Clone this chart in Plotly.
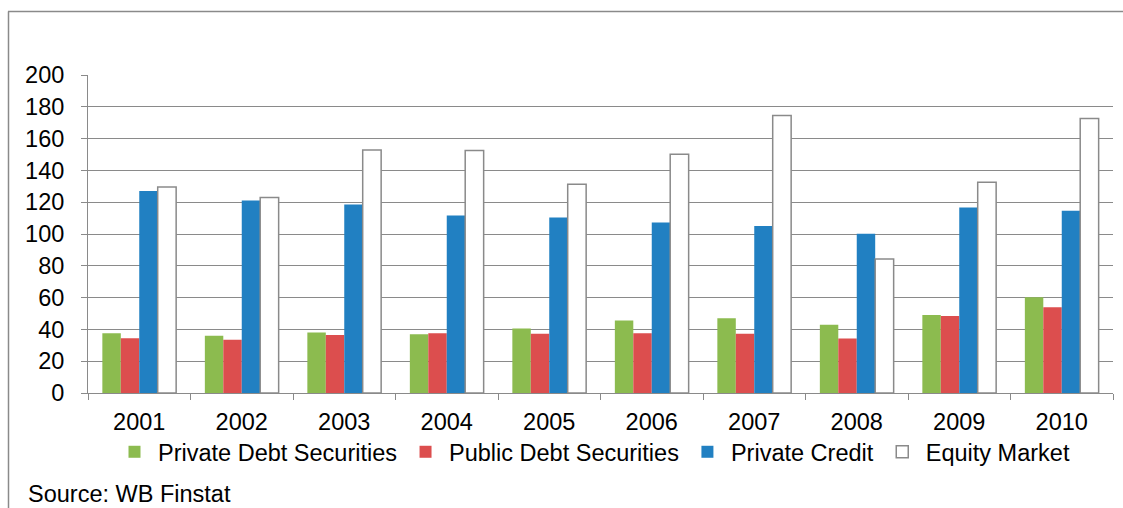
import plotly.graph_objects as go

years = ["2001", "2002", "2003", "2004", "2005", "2006", "2007", "2008", "2009", "2010"]
private_debt = [37.6, 36.0, 38.0, 37.0, 40.5, 45.6, 47.0, 42.9, 49.1, 60.2]
public_debt = [34.5, 33.5, 36.4, 37.6, 37.2, 37.6, 37.2, 34.3, 48.5, 54.0]
private_credit = [127.0, 121.0, 118.6, 111.7, 110.4, 107.3, 105.0, 100.2, 116.7, 114.6]
equity_market = [129.5, 123.0, 152.9, 152.5, 131.3, 150.2, 174.5, 84.3, 132.6, 172.6]
y_ticks = [0, 20, 40, 60, 80, 100, 120, 140, 160, 180, 200]

FONT = "Liberation Sans, Arial, sans-serif"
FS = 23.5
GRID = "#8a8a8a"

fig = go.Figure()
fig.add_trace(go.Bar(name="Private Debt Securities", x=years, y=private_debt,
                     marker=dict(color="#8cbb4f", line=dict(width=0))))
fig.add_trace(go.Bar(name="Public Debt Securities", x=years, y=public_debt,
                     marker=dict(color="#dc4e4e", line=dict(width=0))))
fig.add_trace(go.Bar(name="Private Credit", x=years, y=private_credit,
                     marker=dict(color="#2180c2", line=dict(width=0))))
fig.add_trace(go.Bar(name="Equity Market", x=years, y=equity_market,
                     marker=dict(color="#ffffff", line=dict(color=GRID, width=1.5))))

L, R, T, B = 88, 10, 75, 115
W, H = 1123, 508
pw = W - L - R
ph = H - T - B

def px(x):
    return (x - L) / pw

def py(y):
    return (H - B - y) / ph

fig.update_layout(
    width=W, height=H,
    margin=dict(l=L, r=R, t=T, b=B),
    paper_bgcolor="white", plot_bgcolor="white",
    barmode="group", bargap=0.28, bargroupgap=0,
    font=dict(family=FONT, size=FS, color="#000000"),
    showlegend=True,
    legend=dict(orientation="h", x=px(111), xanchor="left", y=py(452), yanchor="middle",
                font=dict(family=FONT, size=FS, color="#000000"),
                bgcolor="rgba(0,0,0,0)", itemclick=False, itemdoubleclick=False,
                itemwidth=37, tracegroupgap=0),
    xaxis=dict(showline=True, linecolor=GRID, linewidth=1, ticks="outside",
               tickson="boundaries", ticklen=6, tickcolor=GRID, tickwidth=1,
               ticklabelstandoff=8,
               showgrid=False, tickfont=dict(family=FONT, size=FS, color="#000000")),
    yaxis=dict(range=[0, 200], tickvals=y_ticks, showline=True, linecolor=GRID, linewidth=1,
               ticks="outside", ticklen=6, tickcolor=GRID, tickwidth=1,
               showgrid=True, gridcolor=GRID, gridwidth=1, zeroline=False,
               ticklabelstandoff=12,
               tickfont=dict(family=FONT, size=FS, color="#000000")),
    shapes=[
        dict(type="line", xref="paper", yref="paper", x0=px(8.5), x1=px(8.5),
             y0=py(11.5), y1=py(H + 5), line=dict(color=GRID, width=1.5)),
        dict(type="line", xref="paper", yref="paper", x0=px(8), x1=px(W + 5),
             y0=py(11.5), y1=py(11.5), line=dict(color=GRID, width=1.5)),
    ],
    annotations=[
        dict(text="Source: WB Finstat", xref="paper", yref="paper", x=px(26), y=py(494),
             xanchor="left", yanchor="middle", showarrow=False,
             font=dict(family=FONT, size=FS, color="#000000")),
    ],
)

fig.write_html(
    "out.html",
    config={"displayModeBar": False},
    post_script="document.body.style.margin='0px';document.body.style.overflow='hidden';",
)
